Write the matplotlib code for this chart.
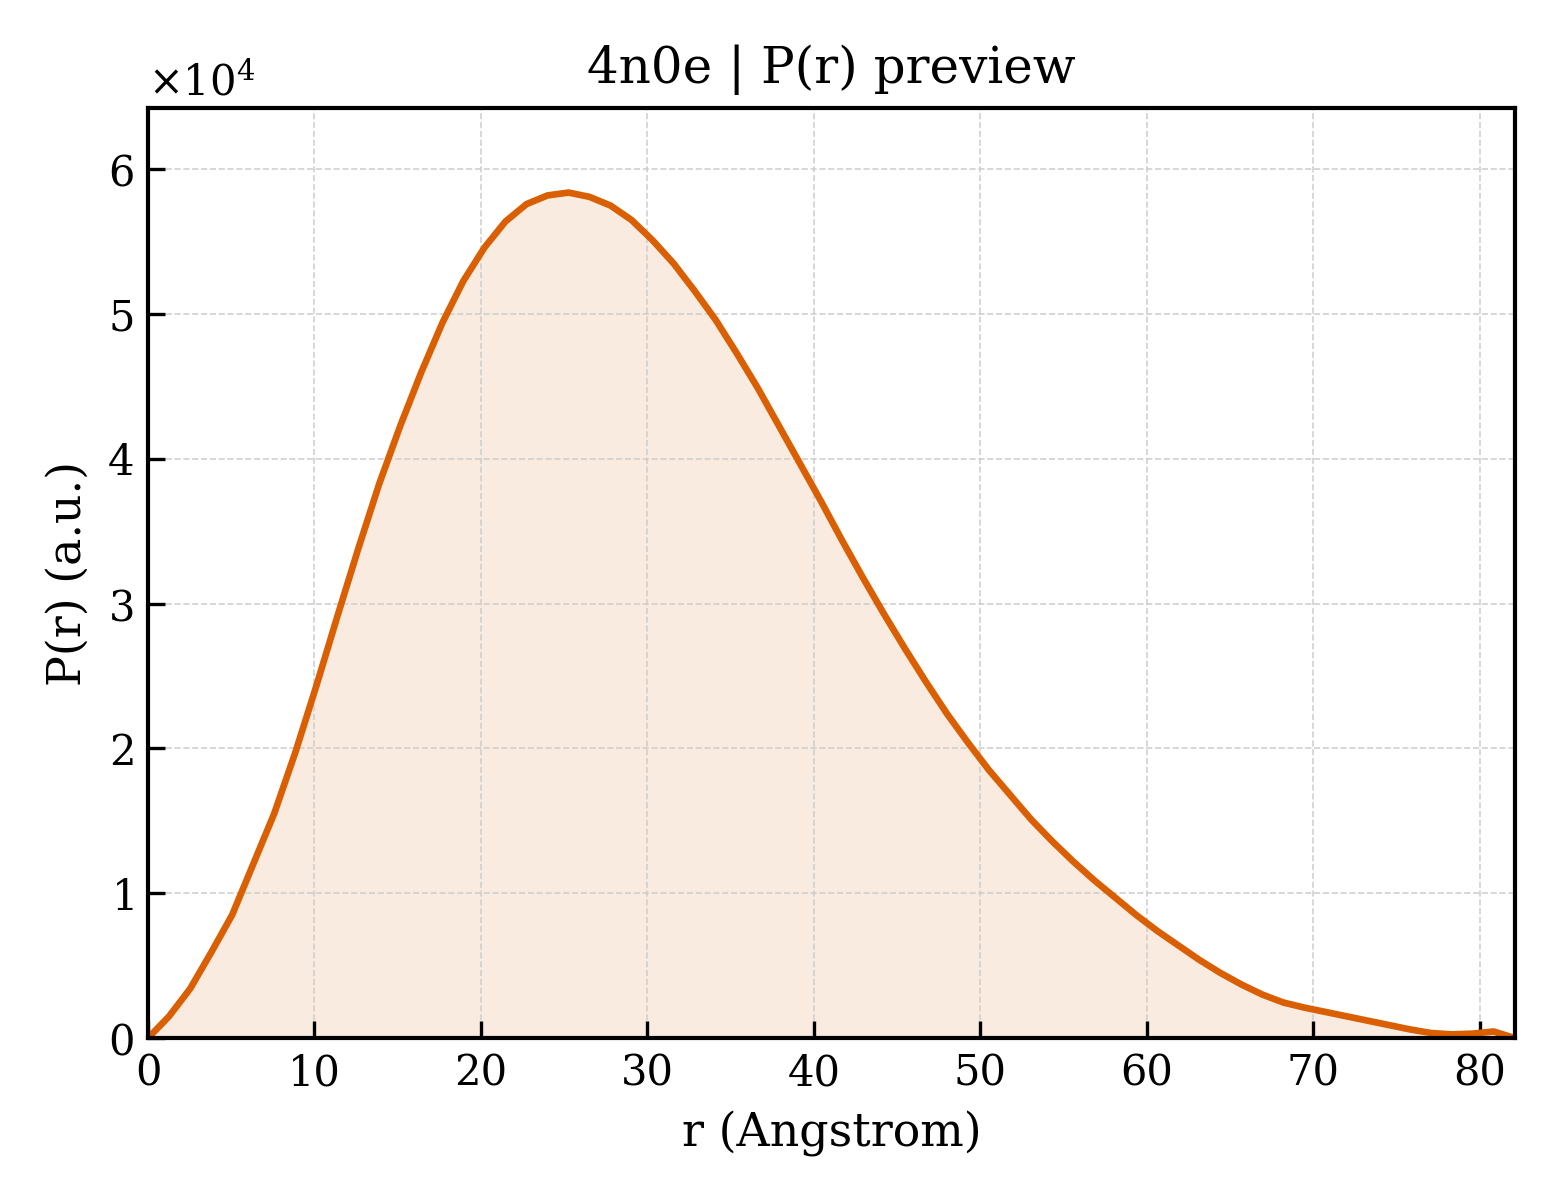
import numpy as np
import matplotlib
matplotlib.use('Agg')
import matplotlib.pyplot as plt

title = '4n0e | P(r) preview'
xlabel = 'r (Angstrom)'
ylabel = 'P(r) (a.u.)'

# r grid (Angstrom), 66 points from 0 to Dmax
r_max = 82.1
r = np.linspace(0, r_max, 66)
pr_1e4 = [0.0, 0.15, 0.34, 0.59, 0.85, 1.20, 1.55, 1.97, 2.43, 2.91,
          3.38, 3.83, 4.23, 4.60, 4.94, 5.23, 5.46, 5.64, 5.76, 5.82,
          5.84, 5.81, 5.75, 5.65, 5.51, 5.35, 5.16, 4.96, 4.73, 4.49,
          4.23, 3.97, 3.71, 3.44, 3.18, 2.93, 2.69, 2.46, 2.24, 2.04,
          1.85, 1.68, 1.51, 1.36, 1.22, 1.09, 0.97, 0.85, 0.74, 0.64,
          0.54, 0.45, 0.37, 0.30, 0.245, 0.21, 0.18, 0.15, 0.12, 0.09,
          0.06, 0.035, 0.025, 0.03, 0.045, 0.0]
pr = np.array(pr_1e4) * 1e4

line_color = '#d95f02'

plt.rcParams['font.family'] = 'DejaVu Serif'
plt.rcParams['mathtext.fontset'] = 'dejavuserif'

fig = plt.figure(figsize=(5.2, 4), dpi=300)
ax = fig.add_axes([0.0949, 0.135, 0.876, 0.775])

ax.fill_between(r, pr, 0, color=line_color, alpha=0.12, lw=0)
ax.plot(r, pr, color=line_color, lw=1.6)

ax.set_xlim(0, r_max)
ax.set_ylim(0, pr.max() * 1.1)
ax.set_title(title, fontsize=12)
ax.set_xlabel(xlabel, fontsize=11)
ax.set_ylabel(ylabel, fontsize=11)

ax.ticklabel_format(axis='y', style='sci', scilimits=(0, 0), useMathText=True)
ax.yaxis.get_offset_text().set_fontsize(10)
ax.tick_params(direction='in', labelsize=10, width=0.8, length=4)
for s in ax.spines.values():
    s.set_linewidth(1.0)
ax.grid(True, ls='--', lw=0.4, color='0.8', alpha=0.9)

fig.savefig('out.png', dpi=300)
